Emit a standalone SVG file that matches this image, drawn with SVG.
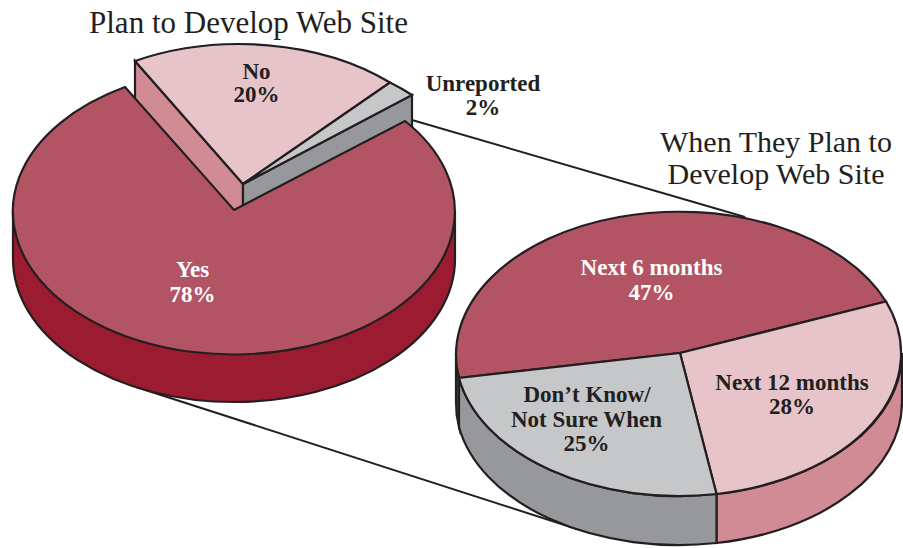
<svg xmlns="http://www.w3.org/2000/svg" width="903" height="548" viewBox="0 0 903 548">
  <style>
    .edge { stroke: #231f20; stroke-width: 2.2; stroke-linejoin: miter; stroke-miterlimit: 10; }
    .red-top { fill: #b35464; }
    .red-side { fill: #9b1b30; }
    .pink-top { fill: #e6c4c9; }
    .pink-side { fill: #d08b95; }
    .grey-top { fill: #c6c7c9; }
    .grey-side { fill: #97989b; }
    .connector { stroke: #231f20; stroke-width: 2; fill: none; }
    text { font-family: "Liberation Serif", "Times New Roman", serif; text-anchor: middle; }
    .title { font-size: 31px; fill: #231f20; }
    .subtitle { font-size: 30px; fill: #231f20; }
    .label { font-size: 23px; font-weight: bold; }
    .dark { fill: #231f20; }
    .light { fill: #ffffff; }
  </style>

  <rect width="903" height="548" fill="#ffffff"/>

  <!-- Titles -->
  <text class="title" x="248.5" y="33">Plan to Develop Web Site</text>
  <text class="subtitle" x="776" y="152">When They Plan to</text>
  <text class="subtitle" x="776" y="184">Develop Web Site</text>

  <!-- Lines linking the "Yes" slice to the breakdown pie -->
  <g id="connectors" class="connector">
    <line x1="412" y1="120" x2="745" y2="217"/>
    <line x1="136" y1="387" x2="580" y2="530"/>
  </g>

  <!-- Main pie: exploded No / Unreported wedge -->
  <g id="slice-no">
    <path class="edge pink-side" d="M243 184 L135 61 L135 110 L243 233 Z"/>
    <path class="edge pink-top" d="M243 184 L135 61 A221 143 0 0 1 390 82.5 Z"/>
    <text class="label dark" x="256.5" y="79">No</text>
    <text class="label dark" x="256.5" y="102">20%</text>
  </g>
  <g id="slice-unreported">
    <path class="edge grey-side" d="M243 184 L412 95 L412 144 L243 233 Z"/>
    <path class="edge grey-top" d="M243 184 L390 82.5 A221 143 0 0 1 412 95 Z"/>
    <text class="label dark" x="483" y="91">Unreported</text>
    <text class="label dark" x="483" y="115">2%</text>
  </g>

  <!-- Main pie: Yes slice -->
  <g id="slice-yes">
    <path class="edge red-side" d="M13 210 A221 143 0 0 0 455 210 L455 259 A221 143 0 0 1 13 259 Z"/>
    <path class="edge red-top" d="M234 210 L405 121 A221 143 0 1 1 125 87 Z"/>
    <text class="label light" x="192.5" y="277">Yes</text>
    <text class="label light" x="192.5" y="301.5">78%</text>
  </g>

  <!-- Breakdown pie -->
  <g id="slice-next-6">
    <path class="edge red-side" d="M456 353 A223 143 0 0 0 459 378 L459 427 A223 143 0 0 1 456 402 Z"/>
    <path class="edge red-top" d="M680 353 L459 378 A223 143 0 0 1 886 301.5 Z"/>
    <text class="label light" x="651.5" y="275">Next 6 months</text>
    <text class="label light" x="651.5" y="300">47%</text>
  </g>
  <g id="slice-next-12">
    <path class="edge pink-side" d="M716.5 494 A223 143 0 0 0 902 353 L902 402 A223 143 0 0 1 716.5 543 Z"/>
    <path class="edge pink-top" d="M680 353 L886 301.5 A223 143 0 0 1 716.5 494 Z"/>
    <text class="label dark" x="792" y="390">Next 12 months</text>
    <text class="label dark" x="792" y="413.5">28%</text>
  </g>
  <g id="slice-not-sure">
    <path class="edge grey-side" d="M459 378 A223 143 0 0 0 716.5 494 L716.5 543 A223 143 0 0 1 459 427 Z"/>
    <path class="edge grey-top" d="M680 353 L716.5 494 A223 143 0 0 1 459 378 Z"/>
    <text class="label dark" x="587" y="401.5">Don’t Know/</text>
    <text class="label dark" x="586.5" y="426.5">Not Sure When</text>
    <text class="label dark" x="586.5" y="450.5">25%</text>
  </g>
</svg>
